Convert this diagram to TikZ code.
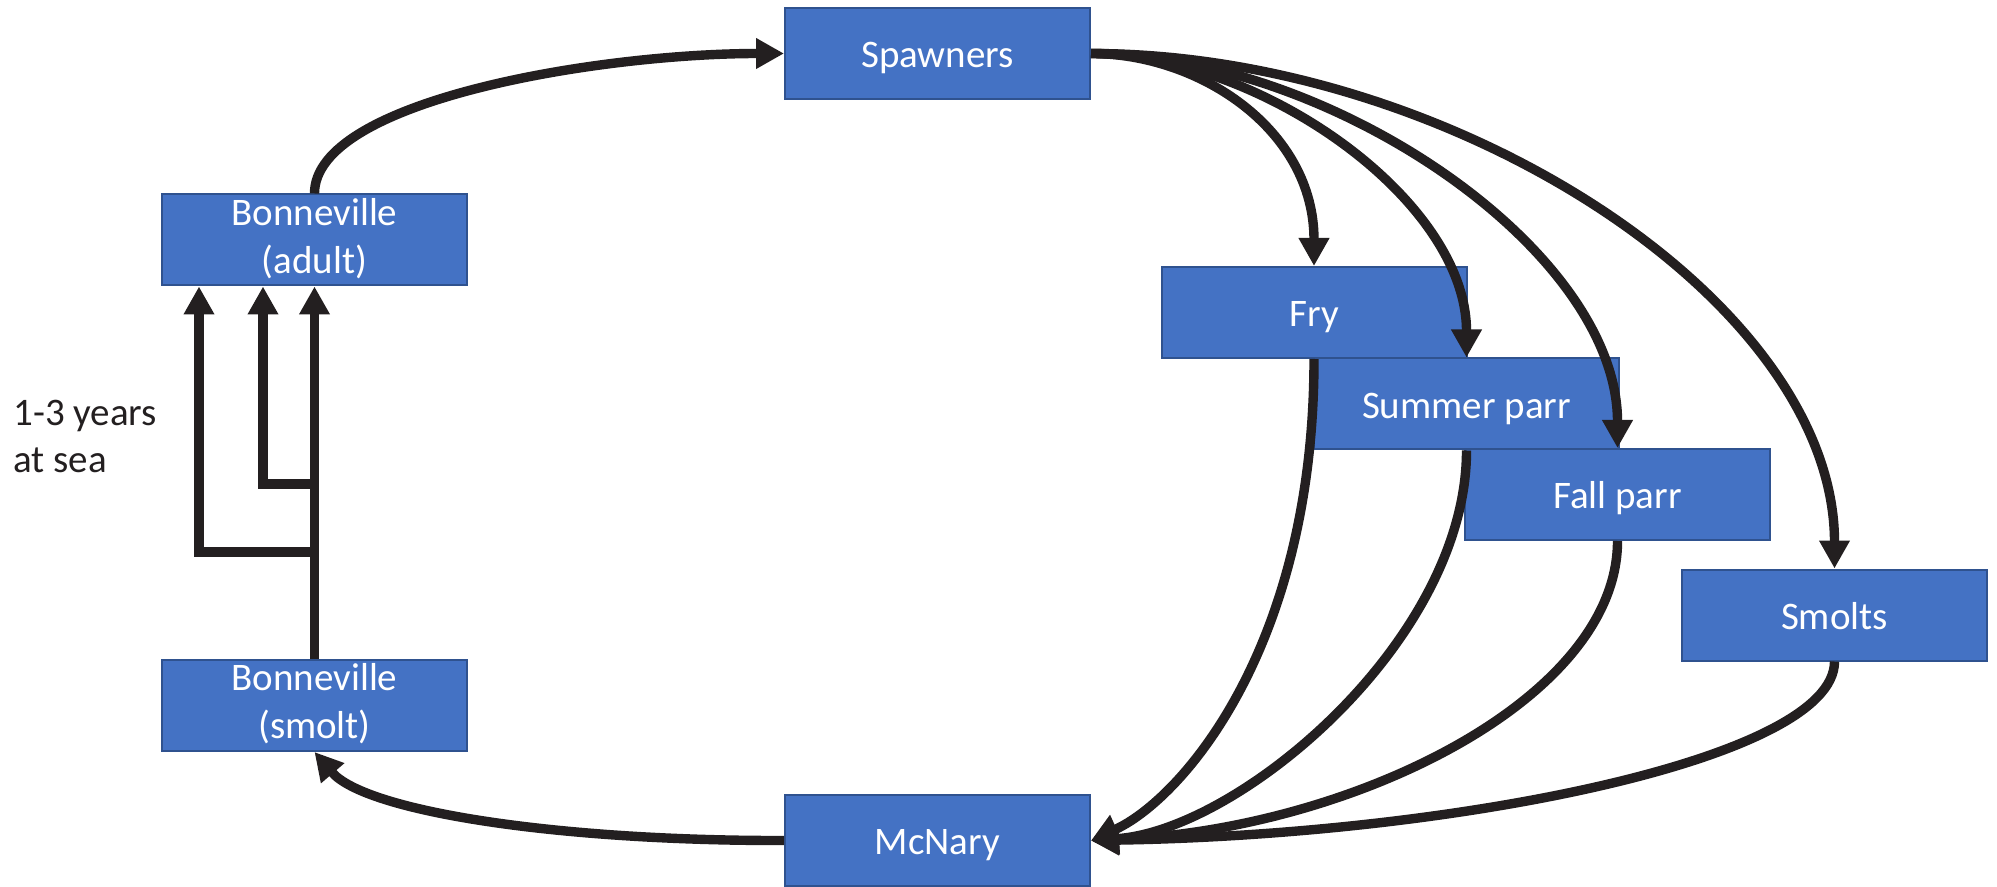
\documentclass[tikz,border=0pt]{standalone}
\usepackage{fontspec}
\setmainfont{Carlito}
\usetikzlibrary{arrows.meta}
\definecolor{boxfill}{HTML}{4472C4}
\definecolor{boxedge}{HTML}{2F528F}
\definecolor{ink}{HTML}{231F20}
% invisible strut giving every line the same ascent and descent
\newcommand{\lnstrut}{\rule[-0.222em]{0pt}{1.172em}}
\begin{document}
\begin{tikzpicture}[x=0.5pt,y=-0.5pt,
  stage/.style={draw=boxedge, line width=1pt, fill=boxfill, text=white,
    minimum width=152.5pt, minimum height=45.5pt, inner sep=0pt,
    align=center, font=\fontsize{19.5}{23.8}\selectfont,
    execute at begin node=\lnstrut},
  flow/.style={draw=ink, line width=4.7pt,
    -{Triangle[length=14pt,width=14.5pt]}},
  note/.style={text=ink, align=left, inner sep=0pt,
    font=\fontsize{19.5}{23.8}\selectfont}]
\useasboundingbox (0,0) rectangle (1997,887);

% life stages
\node[stage] (spawn)  at (937.5,53.5)  {Spawners};
\node[stage] (badult) at (314.5,240)   {Bonneville\\\lnstrut(adult)};
\node[stage] (fry)    at (1314,312.5)  {Fry};
\node[stage] (summer) at (1466.5,404)  {Summer parr};
\node[stage] (fall)   at (1617.5,494.5){Fall parr};
\node[stage] (smolts) at (1834.5,615)  {Smolts};
\node[stage] (bsmolt) at (314.5,705.5) {Bonneville\\\lnstrut(smolt)};
\node[stage] (mcnary) at (937.5,840.5) {McNary};

% base anchor sits on the last line
\node[note, anchor=base west] (sea) at (13,473) {1-3 years\\at sea};

% return of adults to the spawning grounds
\draw[flow] (badult.north) .. controls (314.5,100) and (600,53.5) .. (spawn.west);

% juvenile stages leaving the spawning grounds
\draw[flow] (spawn.east) .. controls (1200,53.5) and (1314,130) .. (fry.north);
\draw[flow] (spawn.east) .. controls (1260,53.5) and (1466.5,200) .. (summer.north);
\draw[flow] (spawn.east) .. controls (1330,53.5) and (1617.5,250) .. (fall.north);
\draw[flow] (spawn.east) .. controls (1450,53.5) and (1834.5,300) .. (smolts.north);

% downstream migration to McNary
\draw[flow] (fry.south) .. controls (1314,650) and (1180,800) .. (mcnary.east);
\draw[flow] (summer.south) .. controls (1466.5,640) and (1240,830) .. (mcnary.east);
\draw[flow] (fall.south) .. controls (1617.5,700) and (1350,830) .. (mcnary.east);
\draw[flow] (smolts.south) .. controls (1834.5,760) and (1450,835) .. (mcnary.east);

% McNary to Bonneville
\draw[flow] (mcnary.west) .. controls (560,841) and (366,812) .. (bsmolt.south);

% years at sea
\coordinate (j1) at (314.5,484);
\coordinate (k1) at (263,484);
\coordinate (j2) at (314.5,552);
\coordinate (k2) at (199,552);
\draw[flow] (bsmolt.north) -- (badult.south);
\draw[flow] (j1) -- (k1) -- (k1 |- badult.south);
\draw[flow] (j2) -- (k2) -- (k2 |- badult.south);
\end{tikzpicture}
\end{document}
